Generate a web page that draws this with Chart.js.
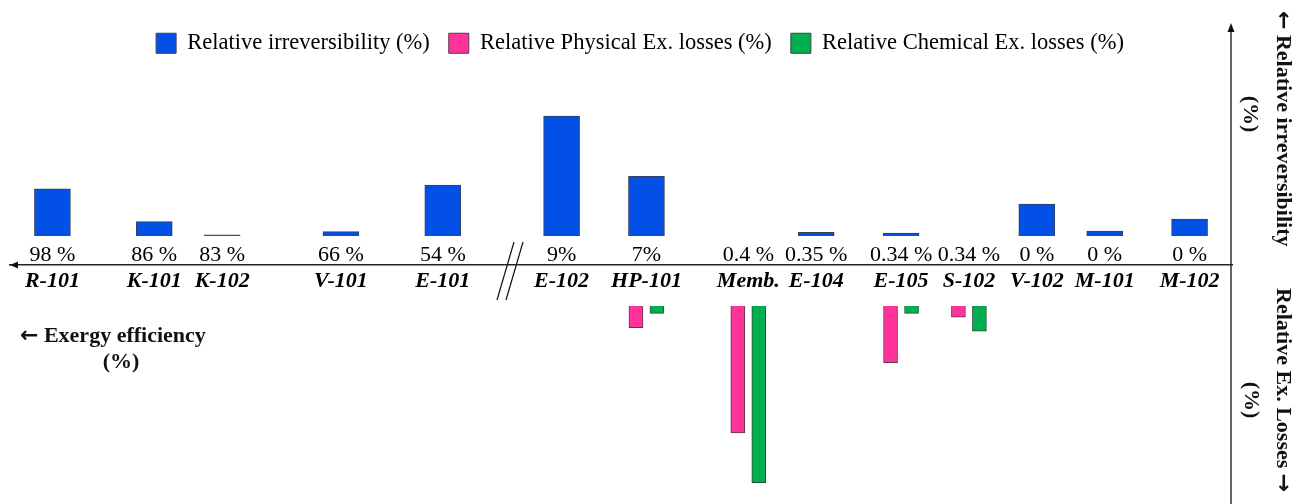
<!DOCTYPE html>
<html>
<head>
<meta charset="utf-8">
<script src="https://cdn.jsdelivr.net/npm/chart.js@4.4.1/dist/chart.umd.min.js"></script>
<style>
  html, body { margin: 0; padding: 0; background: #fff; }
  #wrap { width: 1292px; height: 504px; position: relative; }
</style>
</head>
<body>
<div id="wrap"><canvas id="chart"></canvas></div>
<script>
// Equipment and exergy efficiency shown under / over the axis
const categories = ['R-101', 'K-101', 'K-102', 'V-101', 'E-101', 'E-102', 'HP-101', 'Memb.', 'E-104', 'E-105', 'S-102', 'V-102', 'M-101', 'M-102'];
const efficiency = ['98 %', '86 %', '83 %', '66 %', '54 %', '9%', '7%', '0.4 %', '0.35 %', '0.34 %', '0.34 %', '0 %', '0 %', '0 %'];

// Relative irreversibility (%) - bars above the axis
const irreversibility = [13.2, 4.0, 0.3, 1.2, 14.2, 33.5, 16.7, 0, 1.0, 0.8, 0, 8.9, 1.4, 4.7];
// Relative exergy losses (%) - bars below the axis
const physicalLoss = [null, null, null, null, null, null, 5.0, 29.3, null, 13.1, 2.6, null, null, null];
const chemicalLoss = [null, null, null, null, null, null, 1.7, 40.8, null, 1.7, 5.8, null, null, null];

// Uneven spacing of the original: every equipment sits in one slot of a finer category grid
const slotOf = [2, 8, 12, 19, 25, 32, 37, 43, 47, 52, 56, 60, 64, 69];
const slotCount = 72;
function spread(values, empty) {
    const out = new Array(slotCount).fill(empty);
    values.forEach((v, i) => { out[slotOf[i]] = v; });
    return out;
}

const FONT = "'Liberation Serif', 'Times New Roman', serif";
const ARROW_FONT = "'DejaVu Sans', sans-serif";
Chart.defaults.font.family = FONT;
Chart.defaults.color = '#000';

// pixel frame of the plot area and where the two zero lines sit
const areaTop = 64.5, areaBottom = 500;
const zeroTop = 236, zeroBottom = 306;
const pxTop = 3.58, pxBottom = 4.33; // pixels per percent

// text with an arrow glyph in a sans font, drawn left to right from (0,0)
function arrowText(ctx, parts) {
    let x = 0;
    parts.forEach(p => {
        ctx.font = p.arrow ? 'bold 22px ' + ARROW_FONT : 'bold 22px ' + FONT;
        ctx.fillText(p.text, x, 0);
        x += ctx.measureText(p.text).width;
    });
}

const annotations = {
    id: 'annotations',
    afterDraw(chart) {
        const ctx = chart.ctx;
        const xAxisY = chart.scales.yTop.getPixelForValue(chart.options.scales.x.position.yTop);
        const left = chart.chartArea.left, right = chart.chartArea.right;
        ctx.save();
        ctx.strokeStyle = '#111';
        ctx.fillStyle = '#111';

        // arrow head at the left end of the category axis
        ctx.beginPath();
        ctx.moveTo(left, xAxisY);
        ctx.lineTo(left + 8, xAxisY - 3.5);
        ctx.lineTo(left + 8, xAxisY + 3.5);
        ctx.closePath();
        ctx.fill();

        // vertical axis with arrow on top
        ctx.lineWidth = 1.3;
        ctx.beginPath();
        ctx.moveTo(right - 1, 30);
        ctx.lineTo(right - 1, 504);
        ctx.stroke();
        ctx.beginPath();
        ctx.moveTo(right - 1, 23);
        ctx.lineTo(right - 4.5, 32);
        ctx.lineTo(right + 2.5, 32);
        ctx.closePath();
        ctx.fill();

        // axis break
        ctx.lineWidth = 1.2;
        ctx.beginPath();
        ctx.moveTo(514, 242); ctx.lineTo(497, 300);
        ctx.moveTo(523, 242); ctx.lineTo(506, 300);
        ctx.stroke();

        ctx.textBaseline = 'middle';
        ctx.textAlign = 'left';

        // left title
        ctx.save();
        ctx.translate(20, 336);
        arrowText(ctx, [{ text: '\u2190', arrow: true }, { text: ' Exergy efficiency' }]);
        ctx.restore();
        ctx.font = 'bold 22px ' + FONT;
        ctx.textAlign = 'center';
        ctx.fillText('(%)', 121, 362);

        // right titles, rotated clockwise
        ctx.textAlign = 'left';
        ctx.save();
        ctx.translate(1283, 11);
        ctx.rotate(Math.PI / 2);
        arrowText(ctx, [{ text: '\u2190', arrow: true }, { text: ' Relative irreversibility' }]);
        ctx.restore();
        ctx.save();
        ctx.translate(1283, 288);
        ctx.rotate(Math.PI / 2);
        arrowText(ctx, [{ text: 'Relative Ex. Losses ' }, { text: '\u2192', arrow: true }]);
        ctx.restore();

        ctx.font = 'bold 22px ' + FONT;
        ctx.textAlign = 'center';
        ctx.save();
        ctx.translate(1250, 114);
        ctx.rotate(Math.PI / 2);
        ctx.fillText('(%)', 0, 0);
        ctx.restore();
        ctx.save();
        ctx.translate(1251, 400);
        ctx.rotate(Math.PI / 2);
        ctx.fillText('(%)', 0, 0);
        ctx.restore();

        ctx.restore();
    }
};

new Chart(document.getElementById('chart'), {
    type: 'bar',
    data: {
        labels: spread(categories, ''),
        datasets: [
            {
                label: 'Relative irreversibility (%)',
                data: spread(irreversibility, null),
                backgroundColor: '#0350e6',
                borderColor: '#34405e',
                borderWidth: 1,
                grouped: false,
                barThickness: 36,
                xAxisID: 'x',
                yAxisID: 'yTop'
            },
            {
                label: 'Relative Physical Ex. losses (%)',
                data: spread(physicalLoss, null),
                backgroundColor: '#ff3399',
                borderColor: '#5a3a4a',
                borderWidth: 1,
                barThickness: 21,
                maxBarThickness: 14,
                xAxisID: 'xb',
                yAxisID: 'yBot'
            },
            {
                label: 'Relative Chemical Ex. losses (%)',
                data: spread(chemicalLoss, null),
                backgroundColor: '#00b050',
                borderColor: '#2e4a3a',
                borderWidth: 1,
                barThickness: 21,
                maxBarThickness: 14,
                xAxisID: 'xb',
                yAxisID: 'yBot'
            }
        ]
    },
    options: {
        responsive: true,
        maintainAspectRatio: false,
        animation: false,
        layout: { padding: { top: 13, left: 10, right: 22, bottom: 4 } },
        plugins: {
            legend: {
                position: 'top',
                labels: {
                    boxWidth: 20,
                    boxHeight: 20,
                    padding: 19,
                    font: { size: 22.5 },
                    color: '#000'
                }
            },
            tooltip: { enabled: false }
        },
        scales: {
            x: {
                type: 'category',
                offset: true,
                position: { yTop: -(265 - zeroTop) / pxTop },
                grid: { display: false, drawTicks: false },
                border: { display: true, color: '#222', width: 1.5 },
                ticks: {
                    autoSkip: false, maxRotation: 0, minRotation: 0, padding: 3,
                    color: '#000',
                    font: { size: 22, weight: 'bold', style: 'italic' }
                }
            },
            x2: {
                type: 'category',
                labels: spread(efficiency, ''),
                offset: true,
                position: { yTop: -(239 - zeroTop) / pxTop },
                grid: { display: false, drawTicks: false },
                border: { display: false },
                ticks: {
                    autoSkip: false, maxRotation: 0, minRotation: 0, padding: 3,
                    color: '#000',
                    font: { size: 22 }
                }
            },
            xb: {
                type: 'category',
                offset: true,
                display: false
            },
            yTop: {
                type: 'linear',
                position: 'right',
                min: -(areaBottom - zeroTop) / pxTop,
                max: (zeroTop - areaTop) / pxTop,
                grid: { display: false },
                border: { display: false },
                ticks: { display: false },
                afterFit: (scale) => { scale.width = 38; }
            },
            yBot: {
                type: 'linear',
                reverse: true,
                display: false,
                min: -(zeroBottom - areaTop) / pxBottom,
                max: (areaBottom - zeroBottom) / pxBottom
            }
        }
    },
    plugins: [annotations]
});
</script>
</body>
</html>
